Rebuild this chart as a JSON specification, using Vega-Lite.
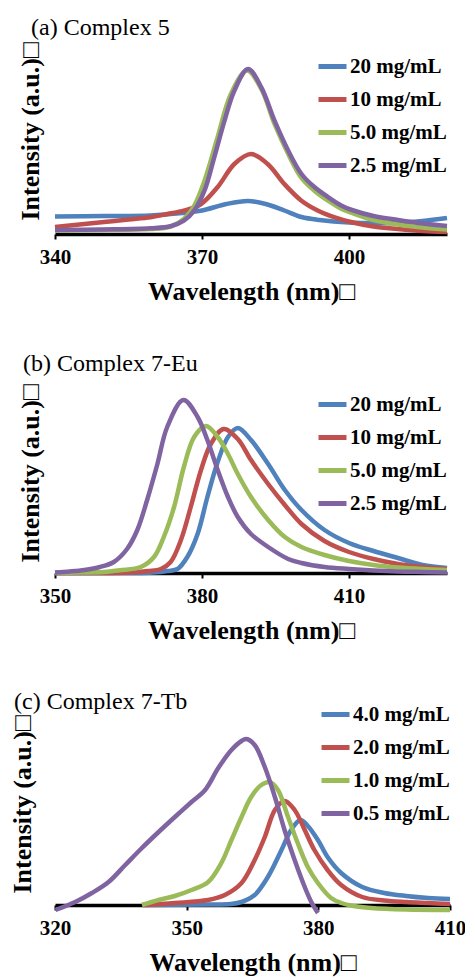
{
  "$schema": "https://vega.github.io/schema/vega-lite/v6.json",
  "padding": {"left": 9, "top": 15, "right": 5, "bottom": 3},
  "spacing": 47,
  "config": {
    "view": {"stroke": null},
    "font": "Liberation Serif, Times New Roman, DejaVu Serif, serif",
    "title": {"font": "Liberation Serif, Times New Roman, DejaVu Serif, serif", "fontSize": 24, "fontWeight": "normal", "anchor": "start", "frame": "group", "color": "black"},
    "axisX": {"domainColor": "black", "domainWidth": 3.5, "tickColor": "black", "tickWidth": 2, "tickSize": 5, "labelFont": "Liberation Serif, Times New Roman, DejaVu Serif, serif", "labelFontWeight": "bold", "labelFontSize": 21, "labelColor": "black", "labelPadding": 7, "labelFlush": false, "titleFont": "Liberation Serif, Times New Roman, DejaVu Serif, serif", "titleFontSize": 26, "titleFontWeight": "bold", "titleColor": "black", "titlePadding": 11, "grid": false, "offset": -8},
    "axisY": {"domain": false, "ticks": false, "labels": false, "grid": false, "minExtent": 0, "titleFont": "Liberation Serif, Times New Roman, DejaVu Serif, serif", "titleFontSize": 26, "titleFontWeight": "bold", "titleColor": "black", "titlePadding": 12},
    "legend": {"orient": "top-right", "offset": 0, "padding": 0, "title": null, "symbolType": "stroke", "symbolSize": 784, "symbolStrokeWidth": 5, "labelFont": "Liberation Serif, Times New Roman, DejaVu Serif, serif", "labelFontWeight": "bold", "labelFontSize": 21, "labelColor": "black", "rowPadding": 6, "labelOffset": 1, "fillColor": "white", "zindex": 1}
  },
  "datasets": {
    "a": [
      {"s": "20 mg/mL", "nm": 340, "I": 17.5}, {"s": "20 mg/mL", "nm": 350, "I": 18}, {"s": "20 mg/mL", "nm": 359.5, "I": 18.5}, {"s": "20 mg/mL", "nm": 366, "I": 21}, {"s": "20 mg/mL", "nm": 370, "I": 23.5}, {"s": "20 mg/mL", "nm": 375, "I": 30}, {"s": "20 mg/mL", "nm": 379.4, "I": 33}, {"s": "20 mg/mL", "nm": 383, "I": 30}, {"s": "20 mg/mL", "nm": 386.8, "I": 23.5}, {"s": "20 mg/mL", "nm": 390.3, "I": 17}, {"s": "20 mg/mL", "nm": 394, "I": 14}, {"s": "20 mg/mL", "nm": 400, "I": 11.5}, {"s": "20 mg/mL", "nm": 405, "I": 11}, {"s": "20 mg/mL", "nm": 410, "I": 11}, {"s": "20 mg/mL", "nm": 415, "I": 13}, {"s": "20 mg/mL", "nm": 420, "I": 16},
      {"s": "10 mg/mL", "nm": 340, "I": 7}, {"s": "10 mg/mL", "nm": 345, "I": 9.5}, {"s": "10 mg/mL", "nm": 350, "I": 12}, {"s": "10 mg/mL", "nm": 355, "I": 14.5}, {"s": "10 mg/mL", "nm": 359.5, "I": 16.7}, {"s": "10 mg/mL", "nm": 362.9, "I": 20}, {"s": "10 mg/mL", "nm": 366.3, "I": 23.3}, {"s": "10 mg/mL", "nm": 369.8, "I": 30}, {"s": "10 mg/mL", "nm": 373.2, "I": 47}, {"s": "10 mg/mL", "nm": 376.6, "I": 70}, {"s": "10 mg/mL", "nm": 380, "I": 80}, {"s": "10 mg/mL", "nm": 383.4, "I": 70}, {"s": "10 mg/mL", "nm": 386.8, "I": 50}, {"s": "10 mg/mL", "nm": 390.3, "I": 33.3}, {"s": "10 mg/mL", "nm": 393.7, "I": 23.3}, {"s": "10 mg/mL", "nm": 397.1, "I": 16.7}, {"s": "10 mg/mL", "nm": 400.6, "I": 11.7}, {"s": "10 mg/mL", "nm": 405, "I": 7.5}, {"s": "10 mg/mL", "nm": 410, "I": 5}, {"s": "10 mg/mL", "nm": 415, "I": 3}, {"s": "10 mg/mL", "nm": 420, "I": 2},
      {"s": "5.0 mg/mL", "nm": 340, "I": 3.5}, {"s": "5.0 mg/mL", "nm": 350, "I": 4}, {"s": "5.0 mg/mL", "nm": 359.5, "I": 5}, {"s": "5.0 mg/mL", "nm": 363.6, "I": 7.5}, {"s": "5.0 mg/mL", "nm": 366.3, "I": 15}, {"s": "5.0 mg/mL", "nm": 368.4, "I": 28}, {"s": "5.0 mg/mL", "nm": 370.5, "I": 53}, {"s": "5.0 mg/mL", "nm": 373.2, "I": 97}, {"s": "5.0 mg/mL", "nm": 375.9, "I": 140}, {"s": "5.0 mg/mL", "nm": 379.2, "I": 163.5}, {"s": "5.0 mg/mL", "nm": 382.1, "I": 145}, {"s": "5.0 mg/mL", "nm": 384.8, "I": 110}, {"s": "5.0 mg/mL", "nm": 387.6, "I": 80}, {"s": "5.0 mg/mL", "nm": 390.3, "I": 56}, {"s": "5.0 mg/mL", "nm": 393, "I": 43}, {"s": "5.0 mg/mL", "nm": 395.8, "I": 33}, {"s": "5.0 mg/mL", "nm": 398.5, "I": 25}, {"s": "5.0 mg/mL", "nm": 400.6, "I": 21}, {"s": "5.0 mg/mL", "nm": 405, "I": 14}, {"s": "5.0 mg/mL", "nm": 410, "I": 9.5}, {"s": "5.0 mg/mL", "nm": 415, "I": 6.5}, {"s": "5.0 mg/mL", "nm": 420, "I": 4.5},
      {"s": "2.5 mg/mL", "nm": 340, "I": 4}, {"s": "2.5 mg/mL", "nm": 350, "I": 4.5}, {"s": "2.5 mg/mL", "nm": 359.5, "I": 5.7}, {"s": "2.5 mg/mL", "nm": 363.6, "I": 7.7}, {"s": "2.5 mg/mL", "nm": 366.3, "I": 13.3}, {"s": "2.5 mg/mL", "nm": 368.4, "I": 23.3}, {"s": "2.5 mg/mL", "nm": 370.5, "I": 43.3}, {"s": "2.5 mg/mL", "nm": 372.5, "I": 76.7}, {"s": "2.5 mg/mL", "nm": 374.6, "I": 113.3}, {"s": "2.5 mg/mL", "nm": 376.6, "I": 143.3}, {"s": "2.5 mg/mL", "nm": 379.4, "I": 165}, {"s": "2.5 mg/mL", "nm": 382.1, "I": 146.7}, {"s": "2.5 mg/mL", "nm": 384.8, "I": 113.3}, {"s": "2.5 mg/mL", "nm": 387.6, "I": 83.3}, {"s": "2.5 mg/mL", "nm": 390.3, "I": 60}, {"s": "2.5 mg/mL", "nm": 393, "I": 46.7}, {"s": "2.5 mg/mL", "nm": 395.8, "I": 36.7}, {"s": "2.5 mg/mL", "nm": 398.5, "I": 28.3}, {"s": "2.5 mg/mL", "nm": 400.6, "I": 24}, {"s": "2.5 mg/mL", "nm": 405, "I": 18}, {"s": "2.5 mg/mL", "nm": 410, "I": 14}, {"s": "2.5 mg/mL", "nm": 415, "I": 10.5}, {"s": "2.5 mg/mL", "nm": 420, "I": 8}
    ],
    "b": [
      {"s": "20 mg/mL", "nm": 350, "I": 0}, {"s": "20 mg/mL", "nm": 365, "I": 0}, {"s": "20 mg/mL", "nm": 370, "I": 0.5}, {"s": "20 mg/mL", "nm": 373, "I": 2}, {"s": "20 mg/mL", "nm": 375, "I": 4}, {"s": "20 mg/mL", "nm": 377, "I": 16}, {"s": "20 mg/mL", "nm": 379.1, "I": 39}, {"s": "20 mg/mL", "nm": 381.1, "I": 76}, {"s": "20 mg/mL", "nm": 383.2, "I": 111}, {"s": "20 mg/mL", "nm": 385.3, "I": 136}, {"s": "20 mg/mL", "nm": 387.3, "I": 145}, {"s": "20 mg/mL", "nm": 390, "I": 133}, {"s": "20 mg/mL", "nm": 393.5, "I": 109}, {"s": "20 mg/mL", "nm": 396.9, "I": 83}, {"s": "20 mg/mL", "nm": 400.3, "I": 63}, {"s": "20 mg/mL", "nm": 405, "I": 43}, {"s": "20 mg/mL", "nm": 410, "I": 30}, {"s": "20 mg/mL", "nm": 415, "I": 22}, {"s": "20 mg/mL", "nm": 420, "I": 15}, {"s": "20 mg/mL", "nm": 425, "I": 8}, {"s": "20 mg/mL", "nm": 430, "I": 5},
      {"s": "10 mg/mL", "nm": 350, "I": 0}, {"s": "10 mg/mL", "nm": 365, "I": 0.5}, {"s": "10 mg/mL", "nm": 369, "I": 2}, {"s": "10 mg/mL", "nm": 371.6, "I": 4}, {"s": "10 mg/mL", "nm": 373.6, "I": 11}, {"s": "10 mg/mL", "nm": 375.7, "I": 33}, {"s": "10 mg/mL", "nm": 377.7, "I": 66}, {"s": "10 mg/mL", "nm": 379.8, "I": 103}, {"s": "10 mg/mL", "nm": 381.8, "I": 129}, {"s": "10 mg/mL", "nm": 384.4, "I": 144}, {"s": "10 mg/mL", "nm": 387.3, "I": 134}, {"s": "10 mg/mL", "nm": 390, "I": 113}, {"s": "10 mg/mL", "nm": 393.5, "I": 89}, {"s": "10 mg/mL", "nm": 396.9, "I": 68}, {"s": "10 mg/mL", "nm": 400.3, "I": 49}, {"s": "10 mg/mL", "nm": 405, "I": 32}, {"s": "10 mg/mL", "nm": 410, "I": 21}, {"s": "10 mg/mL", "nm": 415, "I": 14}, {"s": "10 mg/mL", "nm": 420, "I": 9}, {"s": "10 mg/mL", "nm": 425, "I": 6}, {"s": "10 mg/mL", "nm": 430, "I": 4},
      {"s": "5.0 mg/mL", "nm": 350, "I": 0}, {"s": "5.0 mg/mL", "nm": 355, "I": 0.5}, {"s": "5.0 mg/mL", "nm": 360, "I": 1}, {"s": "5.0 mg/mL", "nm": 363.3, "I": 2.7}, {"s": "5.0 mg/mL", "nm": 367.5, "I": 6}, {"s": "5.0 mg/mL", "nm": 370.2, "I": 16}, {"s": "5.0 mg/mL", "nm": 372.2, "I": 36}, {"s": "5.0 mg/mL", "nm": 374.3, "I": 66}, {"s": "5.0 mg/mL", "nm": 376.3, "I": 106}, {"s": "5.0 mg/mL", "nm": 378.4, "I": 136}, {"s": "5.0 mg/mL", "nm": 380.8, "I": 147}, {"s": "5.0 mg/mL", "nm": 383.2, "I": 136}, {"s": "5.0 mg/mL", "nm": 385.3, "I": 119}, {"s": "5.0 mg/mL", "nm": 387.3, "I": 99}, {"s": "5.0 mg/mL", "nm": 390, "I": 76}, {"s": "5.0 mg/mL", "nm": 393.5, "I": 53}, {"s": "5.0 mg/mL", "nm": 396.9, "I": 36}, {"s": "5.0 mg/mL", "nm": 400.3, "I": 26}, {"s": "5.0 mg/mL", "nm": 405, "I": 18}, {"s": "5.0 mg/mL", "nm": 410, "I": 12}, {"s": "5.0 mg/mL", "nm": 415, "I": 8}, {"s": "5.0 mg/mL", "nm": 420, "I": 5.5}, {"s": "5.0 mg/mL", "nm": 425, "I": 4}, {"s": "5.0 mg/mL", "nm": 430, "I": 3},
      {"s": "2.5 mg/mL", "nm": 350, "I": 0.5}, {"s": "2.5 mg/mL", "nm": 353, "I": 1.5}, {"s": "2.5 mg/mL", "nm": 356, "I": 3}, {"s": "2.5 mg/mL", "nm": 359.2, "I": 6}, {"s": "2.5 mg/mL", "nm": 362, "I": 11}, {"s": "2.5 mg/mL", "nm": 364.7, "I": 24}, {"s": "2.5 mg/mL", "nm": 366.8, "I": 43}, {"s": "2.5 mg/mL", "nm": 368.8, "I": 73}, {"s": "2.5 mg/mL", "nm": 370.9, "I": 109}, {"s": "2.5 mg/mL", "nm": 372.9, "I": 146}, {"s": "2.5 mg/mL", "nm": 376.2, "I": 173}, {"s": "2.5 mg/mL", "nm": 379.1, "I": 156}, {"s": "2.5 mg/mL", "nm": 381.1, "I": 133}, {"s": "2.5 mg/mL", "nm": 383.2, "I": 103}, {"s": "2.5 mg/mL", "nm": 385.3, "I": 76}, {"s": "2.5 mg/mL", "nm": 387.3, "I": 56}, {"s": "2.5 mg/mL", "nm": 390, "I": 39}, {"s": "2.5 mg/mL", "nm": 393.5, "I": 26}, {"s": "2.5 mg/mL", "nm": 397.6, "I": 14}, {"s": "2.5 mg/mL", "nm": 400.3, "I": 10}, {"s": "2.5 mg/mL", "nm": 405, "I": 6}, {"s": "2.5 mg/mL", "nm": 410, "I": 4}, {"s": "2.5 mg/mL", "nm": 415, "I": 2.5}, {"s": "2.5 mg/mL", "nm": 420, "I": 1.5}, {"s": "2.5 mg/mL", "nm": 425, "I": 1}, {"s": "2.5 mg/mL", "nm": 430, "I": 0.5}
    ],
    "c": [
      {"s": "4.0 mg/mL", "nm": 340, "I": 0}, {"s": "4.0 mg/mL", "nm": 355, "I": 0.5}, {"s": "4.0 mg/mL", "nm": 360, "I": 1}, {"s": "4.0 mg/mL", "nm": 362.5, "I": 3}, {"s": "4.0 mg/mL", "nm": 365.5, "I": 10}, {"s": "4.0 mg/mL", "nm": 368.5, "I": 28}, {"s": "4.0 mg/mL", "nm": 371.6, "I": 55}, {"s": "4.0 mg/mL", "nm": 373.8, "I": 75}, {"s": "4.0 mg/mL", "nm": 375.9, "I": 85}, {"s": "4.0 mg/mL", "nm": 377.6, "I": 79}, {"s": "4.0 mg/mL", "nm": 379.9, "I": 65}, {"s": "4.0 mg/mL", "nm": 382.1, "I": 48}, {"s": "4.0 mg/mL", "nm": 385.2, "I": 32}, {"s": "4.0 mg/mL", "nm": 390, "I": 18}, {"s": "4.0 mg/mL", "nm": 395, "I": 12}, {"s": "4.0 mg/mL", "nm": 400, "I": 9}, {"s": "4.0 mg/mL", "nm": 405, "I": 7}, {"s": "4.0 mg/mL", "nm": 410, "I": 6},
      {"s": "2.0 mg/mL", "nm": 340, "I": 0}, {"s": "2.0 mg/mL", "nm": 347.3, "I": 2}, {"s": "2.0 mg/mL", "nm": 354.9, "I": 5}, {"s": "2.0 mg/mL", "nm": 358.7, "I": 10}, {"s": "2.0 mg/mL", "nm": 362.5, "I": 22}, {"s": "2.0 mg/mL", "nm": 365.5, "I": 45}, {"s": "2.0 mg/mL", "nm": 367.8, "I": 68}, {"s": "2.0 mg/mL", "nm": 370.1, "I": 95}, {"s": "2.0 mg/mL", "nm": 372.3, "I": 104}, {"s": "2.0 mg/mL", "nm": 374.6, "I": 95}, {"s": "2.0 mg/mL", "nm": 376.9, "I": 75}, {"s": "2.0 mg/mL", "nm": 379.1, "I": 55}, {"s": "2.0 mg/mL", "nm": 382.1, "I": 35}, {"s": "2.0 mg/mL", "nm": 385.2, "I": 20}, {"s": "2.0 mg/mL", "nm": 390, "I": 8}, {"s": "2.0 mg/mL", "nm": 395, "I": 4.5}, {"s": "2.0 mg/mL", "nm": 400, "I": 3}, {"s": "2.0 mg/mL", "nm": 405, "I": 2}, {"s": "2.0 mg/mL", "nm": 410, "I": 1},
      {"s": "1.0 mg/mL", "nm": 339.8, "I": 0}, {"s": "1.0 mg/mL", "nm": 343.6, "I": 5}, {"s": "1.0 mg/mL", "nm": 347.3, "I": 9}, {"s": "1.0 mg/mL", "nm": 351.1, "I": 15}, {"s": "1.0 mg/mL", "nm": 354.9, "I": 23}, {"s": "1.0 mg/mL", "nm": 357.9, "I": 42}, {"s": "1.0 mg/mL", "nm": 360.2, "I": 65}, {"s": "1.0 mg/mL", "nm": 362.5, "I": 88}, {"s": "1.0 mg/mL", "nm": 364.7, "I": 108}, {"s": "1.0 mg/mL", "nm": 367, "I": 120}, {"s": "1.0 mg/mL", "nm": 368.9, "I": 123}, {"s": "1.0 mg/mL", "nm": 370.8, "I": 115}, {"s": "1.0 mg/mL", "nm": 373.1, "I": 88}, {"s": "1.0 mg/mL", "nm": 375.3, "I": 62}, {"s": "1.0 mg/mL", "nm": 377.6, "I": 38}, {"s": "1.0 mg/mL", "nm": 379.9, "I": 22}, {"s": "1.0 mg/mL", "nm": 382.9, "I": 7}, {"s": "1.0 mg/mL", "nm": 385.2, "I": 2}, {"s": "1.0 mg/mL", "nm": 388, "I": -1}, {"s": "1.0 mg/mL", "nm": 392, "I": -3}, {"s": "1.0 mg/mL", "nm": 400, "I": -4.5}, {"s": "1.0 mg/mL", "nm": 410, "I": -5},
      {"s": "0.5 mg/mL", "nm": 320.1, "I": -5}, {"s": "0.5 mg/mL", "nm": 324.6, "I": 3}, {"s": "0.5 mg/mL", "nm": 328.4, "I": 12}, {"s": "0.5 mg/mL", "nm": 332.2, "I": 23}, {"s": "0.5 mg/mL", "nm": 336, "I": 40}, {"s": "0.5 mg/mL", "nm": 339.8, "I": 57}, {"s": "0.5 mg/mL", "nm": 343.6, "I": 73}, {"s": "0.5 mg/mL", "nm": 347.3, "I": 88}, {"s": "0.5 mg/mL", "nm": 351.1, "I": 103}, {"s": "0.5 mg/mL", "nm": 354.2, "I": 115}, {"s": "0.5 mg/mL", "nm": 357.2, "I": 137}, {"s": "0.5 mg/mL", "nm": 360.2, "I": 155}, {"s": "0.5 mg/mL", "nm": 362.5, "I": 164}, {"s": "0.5 mg/mL", "nm": 363.6, "I": 166}, {"s": "0.5 mg/mL", "nm": 365.5, "I": 160}, {"s": "0.5 mg/mL", "nm": 367.8, "I": 138}, {"s": "0.5 mg/mL", "nm": 370.1, "I": 108}, {"s": "0.5 mg/mL", "nm": 372.3, "I": 75}, {"s": "0.5 mg/mL", "nm": 374.6, "I": 45}, {"s": "0.5 mg/mL", "nm": 376.9, "I": 18}, {"s": "0.5 mg/mL", "nm": 378.4, "I": 3}, {"s": "0.5 mg/mL", "nm": 379.9, "I": -8}
    ]
  },
  "vconcat": [
    {
      "width": 392, "height": 192,
      "title": {"text": "(a) Complex 5", "dx": -24, "offset": 2},
      "data": {"name": "a"},
      "mark": {"type": "line", "interpolate": "catmull-rom", "strokeWidth": 4.5},
      "encoding": {
        "x": {"field": "nm", "type": "quantitative", "scale": {"domain": [340, 420], "nice": false, "zero": false}, "axis": {"values": [340, 370, 400], "title": "Wavelength (nm)□"}},
        "y": {"field": "I", "type": "quantitative", "scale": {"domain": [-8, 184], "nice": false, "zero": false}, "axis": {"title": "Intensity (a.u.)□", "titleY": 81}},
        "color": {"field": "s", "type": "nominal", "scale": {"domain": ["20 mg/mL", "10 mg/mL", "5.0 mg/mL", "2.5 mg/mL"], "range": ["#4F81BD", "#C0504D", "#9BBB59", "#8064A2"]}}
      }
    },
    {
      "width": 392, "height": 193,
      "title": {"text": "(b) Complex 7-Eu", "dx": -32, "offset": 8},
      "data": {"name": "b"},
      "mark": {"type": "line", "interpolate": "catmull-rom", "strokeWidth": 4.5},
      "encoding": {
        "x": {"field": "nm", "type": "quantitative", "scale": {"domain": [350, 430], "nice": false, "zero": false}, "axis": {"values": [350, 380, 410], "title": "Wavelength (nm)□"}},
        "y": {"field": "I", "type": "quantitative", "scale": {"domain": [-8, 185], "nice": false, "zero": false}, "axis": {"title": "Intensity (a.u.)□", "titleY": 85}},
        "color": {"field": "s", "type": "nominal", "scale": {"domain": ["20 mg/mL", "10 mg/mL", "5.0 mg/mL", "2.5 mg/mL"], "range": ["#4F81BD", "#C0504D", "#9BBB59", "#8064A2"]}}
      }
    },
    {
      "width": 395, "height": 215,
      "title": {"text": "(c) Complex 7-Tb", "dx": -41, "offset": -16},
      "data": {"name": "c"},
      "mark": {"type": "line", "interpolate": "catmull-rom", "strokeWidth": 4.5},
      "encoding": {
        "x": {"field": "nm", "type": "quantitative", "scale": {"domain": [320, 410], "nice": false, "zero": false}, "axis": {"values": [320, 350, 380, 410], "title": "Wavelength (nm)□"}},
        "y": {"field": "I", "type": "quantitative", "scale": {"domain": [-8, 207], "nice": false, "zero": false}, "axis": {"title": "Intensity (a.u.)□", "titleY": 106, "titlePadding": 20}},
        "color": {"field": "s", "type": "nominal", "scale": {"domain": ["4.0 mg/mL", "2.0 mg/mL", "1.0 mg/mL", "0.5 mg/mL"], "range": ["#4F81BD", "#C0504D", "#9BBB59", "#8064A2"]}}
      }
    }
  ],
  "resolve": {"scale": {"color": "independent", "x": "independent", "y": "independent"}, "legend": {"color": "independent"}}
}
